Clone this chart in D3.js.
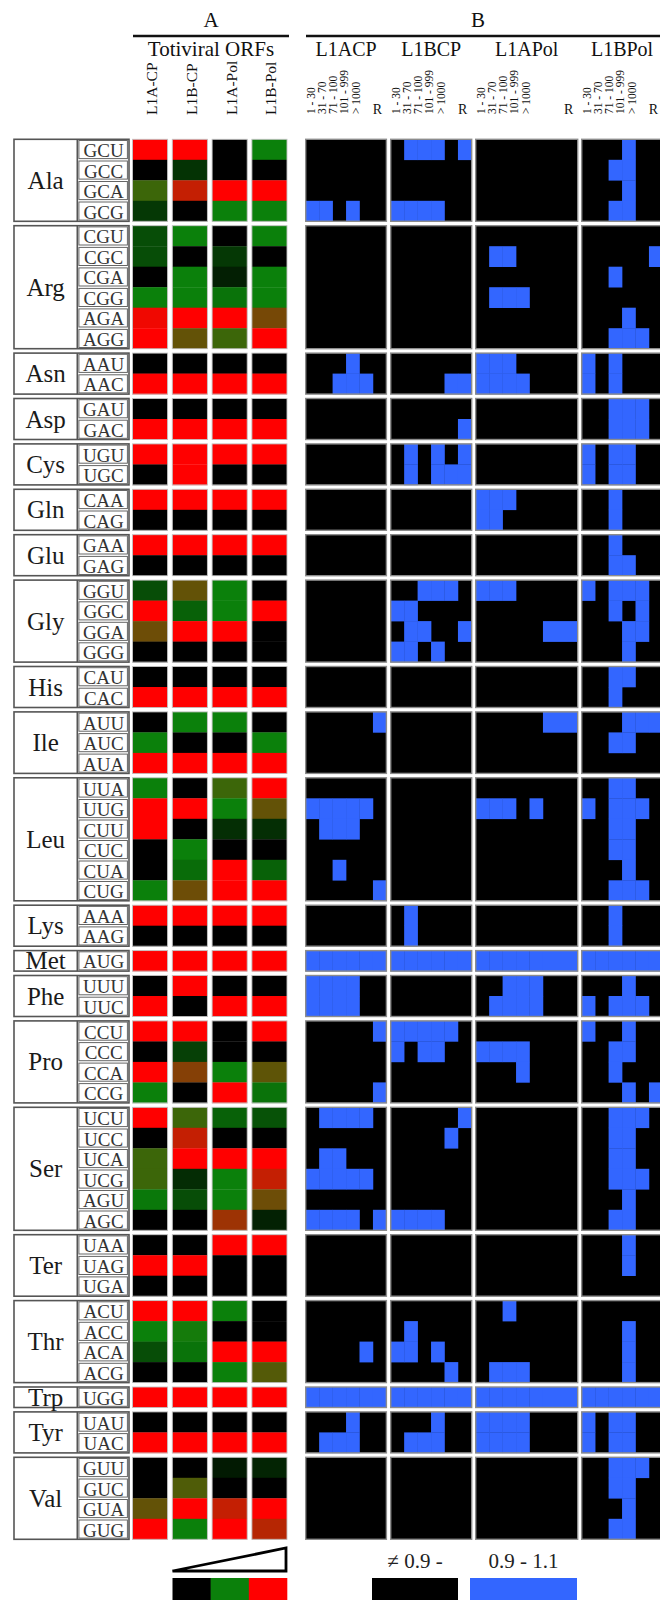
<!DOCTYPE html>
<html>
<head>
<meta charset="utf-8">
<script src="https://cdn.jsdelivr.net/npm/d3@7"></script>
<style>
  body { margin: 0; background: #fff; }
  svg { display: block; }
  text { font-family: "Liberation Serif", "Times New Roman", serif; }
</style>
</head>
<body>
<svg id="chart" width="660" height="1600"></svg>
<script>
// ---- data ---------------------------------------------------------------
const aminoAcids = ["Ala","Arg","Asn","Asp","Cys","Gln","Glu","Gly","His","Ile","Leu",
                    "Lys","Met","Phe","Pro","Ser","Ter","Thr","Trp","Tyr","Val"];
const codonSets = [
  ["GCU","GCC","GCA","GCG"], ["CGU","CGC","CGA","CGG","AGA","AGG"], ["AAU","AAC"],
  ["GAU","GAC"], ["UGU","UGC"], ["CAA","CAG"], ["GAA","GAG"],
  ["GGU","GGC","GGA","GGG"], ["CAU","CAC"], ["AUU","AUC","AUA"],
  ["UUA","UUG","CUU","CUC","CUA","CUG"], ["AAA","AAG"], ["AUG"], ["UUU","UUC"],
  ["CCU","CCC","CCA","CCG"], ["UCU","UCC","UCA","UCG","AGU","AGC"], ["UAA","UAG","UGA"],
  ["ACU","ACC","ACA","ACG"], ["UGG"], ["UAU","UAC"], ["GUU","GUC","GUA","GUG"]
];

// Panel A: relative codon usage per totiviral ORF (0 = low/black, 0.5 = green, 1 = high/red)
const orfs = ["L1A-CP","L1B-CP","L1A-Pol","L1B-Pol"];
const usageL1ACP = [1,0,0.6,0.22, 0.3,0.3,0,0.5,0.97,1, 0,1, 0,1, 1,0, 1,0, 1,0,
  0.3,1,0.7,0, 0,1, 0,0.5,1, 0.5,1,1,0,0,0.5, 1,0, 1, 0,1, 1,0,1,0.5,
  1,0,0.6,0.6,0.47,0, 0,1,0, 1,0.5,0.3,0, 1, 0,1, 0,0,0.68,1];
const usageL1BCP = [1,0.2,0.88,0, 0.5,0,0.5,0.5,1,0.68, 0,1, 0,1, 1,1, 1,0, 1,0,
  0.68,0.38,1,0, 0,1, 0.5,0,1, 0,1,0,0.5,0.42,0.7, 1,0, 1, 1,0, 1,0.25,0.75,0,
  0.6,0.88,1,0.17,0.3,0, 0,1,0, 1,0.52,0.45,0, 1, 0,1, 0,0.64,1,0.5];
const usageL1APol = [0,0,1,0.5, 0,0.22,0.12,0.45,1,0.6, 0,1, 0,1, 1,0, 1,0, 1,0,
  0.5,0.5,1,0, 0,1, 0.5,0,1, 0.6,0.5,0.18,0,1,1, 1,0, 1, 0,1, 0,0,0.5,1,
  0.38,0,1,0.5,0.5,0.8, 1,0,0, 0.5,0,1,0.5, 1, 0,1, 0.1,0,0.88,1];
const usageL1BPol = [0.5,0,1,0.5, 0.5,0,0.5,0.5,0.72,1, 0,1, 0,1, 1,0, 1,0, 1,0,
  0,1,0,0, 0,1, 0,0.5,1, 1,0.68,0.18,0,0.38,1, 1,0, 1, 0,1, 1,0,0.67,0.45,
  0.32,0,1,0.88,0.7,0.13, 1,0,0, 0,0,1,0.65, 1, 0,1, 0.14,0,1,0.85];

// Panel B: codon ratio within 0.9 - 1.1 ('1') per length class, per ORF
const panels = ["L1ACP","L1BCP","L1APol","L1BPol"];
const lengthBins = ["1 - 30","31 - 70","71 - 100","101 - 999","> 1000","R"];
const ratioL1ACP = [
  "000000","000000","000000","110100",
  "000000","000000","000000","000000","000000","000000",
  "000100","001110", "000000","000000", "000000","000000", "000000","000000", "000000","000000",
  "000000","000000","000000","000000", "000000","000000", "000001","000000","000000",
  "000000","111110","011100","000000","001000","000001",
  "000000","000000", "111111", "111100","111100",
  "000001","000000","000000","000001",
  "011110","000000","011000","111110","000000","111101",
  "000000","000000","000000", "000000","000000","000010","000000",
  "111111", "000100","011100", "000000","000000","000000","000000"];
const ratioL1BCP = [
  "011101","000000","000000","111100",
  "000000","000000","000000","000000","000000","000000",
  "000000","000011", "000000","000001", "010101","010111", "000000","000000", "000000","000000",
  "001110","110000","011001","110100", "000000","000000", "000000","000000","000000",
  "000000","000000","000000","000000","000000","000000",
  "010000","010000", "111111", "000000","000000",
  "111110","101100","000000","000000",
  "000001","000010","000000","000000","000000","111100",
  "000000","000000","000000", "000000","010000","110100","000010",
  "111111", "000100","011100", "000000","000000","000000","000000"];
const ratioL1APol = [
  "000000","000000","000000","000000",
  "000000","011000","000000","011100","000000","000000",
  "111000","111100", "000000","000000", "000000","000000", "111000","110000", "000000","000000",
  "111000","000000","000001","000000", "000000","000000", "000001","000000","000000",
  "000000","111010","000000","000000","000000","000000",
  "000000","000000", "111111", "001110","011110",
  "000000","111100","000100","000000",
  "000000","000000","000000","000000","000000","000000",
  "000000","000000","000000", "001000","000000","000000","011100",
  "111111", "111100","111100", "000000","000000","000000","000000"];
const ratioL1BPol = [
  "000100","001100","000100","001100",
  "000000","000001","001000","000000","000100","001110",
  "101000","101000", "001110","001110", "101100","101100", "001000","001000", "001000","001100",
  "101110","001010","000110","000100", "001100","001000", "000111","001100","000000",
  "001100","101110","001100","001100","000100","001110",
  "001000","001000", "111111", "000100","101110",
  "100100","001100","001000","000101",
  "001110","001100","001100","001110","000100","001100",
  "000100","000100","000000", "000000","000100","000100","000100",
  "111111", "101100","101100", "001110","001100","000100","001100"];

// ---- layout -------------------------------------------------------------
const TOP = 139.3, ROW_H = 20.5, GROUP_GAP = 4.4;
const BLUE = "#3366ff";
const svg = d3.select("#chart");

const rows = [];
aminoAcids.forEach((aa, gi) => codonSets[gi].forEach((codon, ri) =>
  rows.push({ aa, codon, gi, ri, k: rows.length })));

const rowScale = d3.scaleLinear().domain([0, rows.length])
  .range([TOP, TOP + rows.length * ROW_H]);
const yOf = r => rowScale(r.k) + r.gi * GROUP_GAP;

const groups = aminoAcids.map((aa, gi) => {
  const rs = rows.filter(r => r.gi === gi);
  return { aa, gi, rows: rs, y0: yOf(rs[0]), y1: yOf(rs[rs.length - 1]) + ROW_H };
});

// ---- row labels (amino acid + codon boxes) -------------------------------
const LAB_X0 = 14, LAB_XM = 77.3, LAB_X1 = 129;
const labels = svg.append("g");
labels.selectAll("rect.aa").data(groups).join("rect")
  .attr("class", "aa")
  .attr("x", LAB_X0).attr("y", d => d.y0)
  .attr("width", LAB_X1 - LAB_X0).attr("height", d => d.y1 - d.y0)
  .attr("fill", "#fff").attr("stroke", "#555").attr("stroke-width", 1.6);
labels.selectAll("line.div").data(groups).join("line")
  .attr("x1", LAB_XM).attr("x2", LAB_XM)
  .attr("y1", d => d.y0).attr("y2", d => d.y1)
  .attr("stroke", "#555").attr("stroke-width", 1.6);
labels.selectAll("rect.codon").data(rows).join("rect")
  .attr("class", "codon")
  .attr("x", LAB_XM + 1.6).attr("y", d => yOf(d) + 1.2)
  .attr("width", LAB_X1 - LAB_XM - 3.2).attr("height", ROW_H - 2.4)
  .attr("fill", "#fff").attr("stroke", "#666").attr("stroke-width", 1);
labels.selectAll("text.aa").data(groups).join("text")
  .attr("x", (LAB_X0 + LAB_XM) / 2).attr("y", d => (d.y0 + d.y1) / 2)
  .attr("text-anchor", "middle").attr("dominant-baseline", "central")
  .attr("font-size", 25).attr("fill", "#1a1a1a")
  .text(d => d.aa);
labels.selectAll("text.codon").data(rows).join("text")
  .attr("x", (LAB_XM + LAB_X1) / 2 + 0.5).attr("y", d => yOf(d) + ROW_H / 2 + 1)
  .attr("text-anchor", "middle").attr("dominant-baseline", "central")
  .attr("font-size", 19).attr("fill", "#333")
  .text(d => d.codon);

// ---- panel A: codon usage heat map --------------------------------------
const usage = { "L1A-CP": usageL1ACP, "L1B-CP": usageL1BCP, "L1A-Pol": usageL1APol, "L1B-Pol": usageL1BPol };
const xA = d3.scaleBand().domain(orfs).range([132.5, 287]).paddingInner(0.118);
const heat = d3.scaleLinear().domain([0, 0.5, 1]).range(["#000000", "#0b800b", "#ff0000"]);

const pa = svg.append("g");
orfs.forEach(o => {
  pa.append("g").selectAll("rect").data(rows).join("rect")
    .attr("x", xA(o)).attr("y", d => yOf(d))
    .attr("width", xA.bandwidth()).attr("height", ROW_H + 0.3)
    .attr("fill", d => heat(usage[o][d.k]));
  pa.append("g").selectAll("rect").data(groups).join("rect")
    .attr("x", xA(o)).attr("y", d => d.y0)
    .attr("width", xA.bandwidth()).attr("height", d => d.y1 - d.y0)
    .attr("fill", "none").attr("stroke", "#c4c4c4").attr("stroke-width", 0.9);
});

// ---- panel B: ratio class grid ------------------------------------------
const ratio = { L1ACP: ratioL1ACP, L1BCP: ratioL1BCP, L1APol: ratioL1APol, L1BPol: ratioL1BPol };
const panelLeft = d3.scaleOrdinal().domain(panels).range([305.7, 390.7, 475.7, 581.7]);
const panelWidth = d3.scaleOrdinal().domain(panels).range([80.7, 81, 102, 80.7]);
const binX = d3.scaleBand().domain(lengthBins).range([0, 6 * 13.45]);
const binW = (p, b) => b === "R" ? panelWidth(p) - binX(b) : binX.bandwidth();

const pb = svg.append("g");
panels.forEach(p => {
  const g = pb.append("g");
  g.selectAll("rect.bg").data(groups).join("rect")
    .attr("class", "bg")
    .attr("x", panelLeft(p)).attr("y", d => d.y0)
    .attr("width", panelWidth(p)).attr("height", d => d.y1 - d.y0)
    .attr("fill", "#000");
  const cells = [];
  rows.forEach(r => lengthBins.forEach((b, j) => {
    if (ratio[p][r.k][j] === "1") cells.push({ r, b });
  }));
  g.selectAll("rect.cell").data(cells).join("rect")
    .attr("class", "cell")
    .attr("x", d => panelLeft(p) + binX(d.b)).attr("y", d => yOf(d.r))
    .attr("width", d => binW(p, d.b) + 0.3).attr("height", ROW_H + 0.3)
    .attr("fill", BLUE);
  g.selectAll("rect.frame").data(groups).join("rect")
    .attr("class", "frame")
    .attr("x", panelLeft(p)).attr("y", d => d.y0)
    .attr("width", panelWidth(p)).attr("height", d => d.y1 - d.y0)
    .attr("fill", "none").attr("stroke", "#8c8c8c").attr("stroke-width", 1.4);
});

// ---- headers ------------------------------------------------------------
const hd = svg.append("g").attr("fill", "#111");
hd.append("text").attr("x", 211).attr("y", 27).attr("text-anchor", "middle")
  .attr("font-size", 21).text("A");
hd.append("line").attr("x1", 133).attr("x2", 289).attr("y1", 36).attr("y2", 36)
  .attr("stroke", "#111").attr("stroke-width", 2.6);
hd.append("text").attr("x", 211).attr("y", 56).attr("text-anchor", "middle")
  .attr("font-size", 21).text("Totiviral ORFs");
hd.selectAll("text.orf").data(orfs).join("text")
  .attr("class", "orf")
  .attr("transform", d => `translate(${xA(d) + xA.bandwidth() / 2 + 7},115) rotate(-90)`)
  .attr("font-size", 15.5).text(d => d);

hd.append("text").attr("x", 478).attr("y", 27).attr("text-anchor", "middle")
  .attr("font-size", 21).text("B");
hd.append("line").attr("x1", 306).attr("x2", 660).attr("y1", 36).attr("y2", 36)
  .attr("stroke", "#111").attr("stroke-width", 2.6);
hd.selectAll("text.panel").data(panels).join("text")
  .attr("class", "panel")
  .attr("x", d => panelLeft(d) + panelWidth(d) / 2).attr("y", 56)
  .attr("text-anchor", "middle").attr("font-size", 20).text(d => d);

panels.forEach(p => {
  const rangeBins = lengthBins.slice(0, 5);
  hd.selectAll(null).data(rangeBins).join("text")
    .attr("transform", (d, j) => `translate(${panelLeft(p) + 9 + j * 11.2},114) rotate(-90)`)
    .attr("font-size", 11.5).text(d => d);
  hd.append("text")
    .attr("x", panelLeft(p) + panelWidth(p) - 9).attr("y", 114)
    .attr("text-anchor", "middle").attr("font-size", 14).text("R");
});

// ---- legends ------------------------------------------------------------
const lg = svg.append("g");
const legA = d3.scaleBand().domain([0, 0.5, 1]).range([172.5, 287]);
lg.append("path")
  .attr("d", d3.line()([[legA.range()[0], 1571], [legA.range()[1] - 1, 1548], [legA.range()[1] - 1, 1571]]) + "Z")
  .attr("fill", "#fff").attr("stroke", "#000").attr("stroke-width", 2.8)
  .attr("stroke-linejoin", "miter");
lg.selectAll("rect.legA").data(legA.domain()).join("rect")
  .attr("x", d => legA(d)).attr("y", 1578)
  .attr("width", legA.bandwidth() + 0.3).attr("height", 24)
  .attr("fill", d => heat(d));

const legB = [
  { label: "\u2260 0.9 -", fill: "#000", x0: 372, x1: 458 },
  { label: "0.9 - 1.1", fill: BLUE, x0: 470, x1: 577 }
];
lg.selectAll("rect.legB").data(legB).join("rect")
  .attr("x", d => d.x0).attr("y", 1578)
  .attr("width", d => d.x1 - d.x0).attr("height", 24)
  .attr("fill", d => d.fill);
lg.selectAll("text.legB").data(legB).join("text")
  .attr("x", d => (d.x0 + d.x1) / 2).attr("y", 1568)
  .attr("text-anchor", "middle").attr("font-size", 21).attr("fill", "#222")
  .text(d => d.label);
</script>
</body>
</html>
